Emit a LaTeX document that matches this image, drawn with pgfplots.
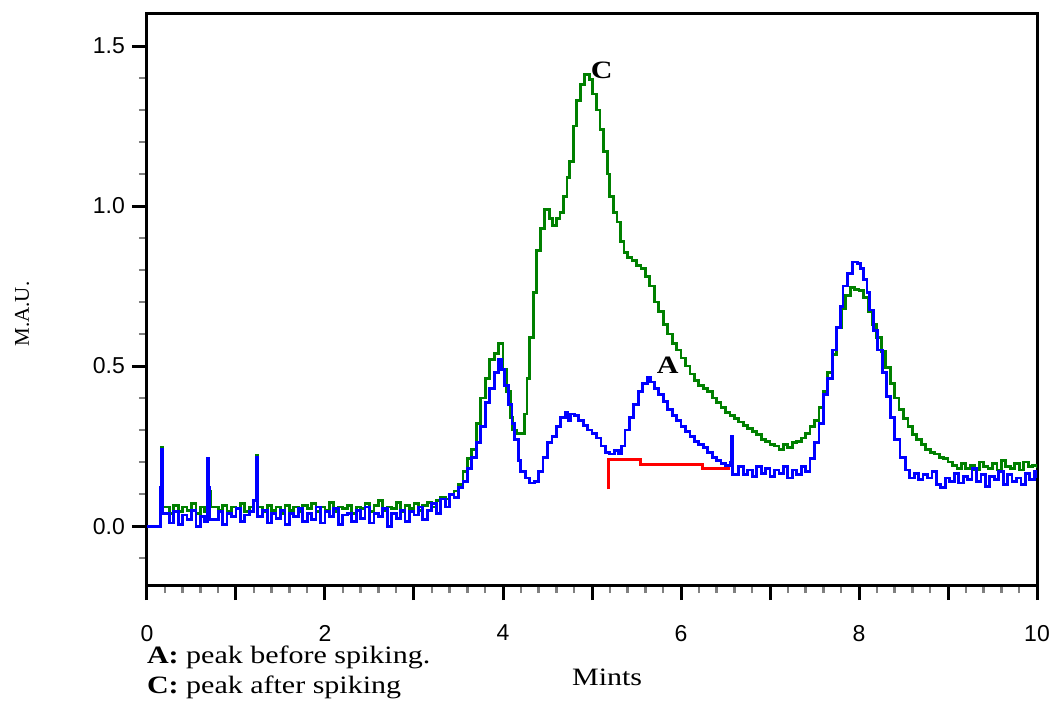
\documentclass[border=0pt]{standalone}
\usepackage{fontspec}
\setmainfont[FakeStretch=1.2]{Liberation Serif}
\newfontfamily\plainserif{Liberation Serif}
\newfontfamily\tickfont{Liberation Sans}
\usepackage{pgfplots}
\pgfplotsset{compat=1.18}
\definecolor{cgreen}{RGB}{0,128,0}
\definecolor{cblue}{RGB}{0,0,255}
\definecolor{cred}{RGB}{255,0,0}
\begin{document}
\begin{tikzpicture}
\path[use as bounding box] (-73.5pt,-61pt) rectangle (451.5pt,292.5pt);
\begin{axis}[
  at={(0,0)}, anchor=south west,
  scale only axis, width=445pt, height=285.5pt,
  xmin=0, xmax=10, ymin=-0.184, ymax=1.6,
  axis line style={line width=1.5pt},
  xtick={0,2,4,6,8,10}, xticklabels={0,2,4,6,8,10},
  ytick={0,0.5,1,1.5}, yticklabels={0.0,0.5,1.0,1.5},
  minor xtick={0.2,0.4,0.6,0.8,1.2,1.4,1.6,1.8,2.2,2.4,2.6,2.8,3.2,3.4,3.6,3.8,4.2,4.4,4.6,4.8,5.2,5.4,5.6,5.8,6.2,6.4,6.6,6.8,7.2,7.4,7.6,7.8,8.2,8.4,8.6,8.8,9.2,9.4,9.6,9.8},
  minor ytick={-0.1,0.1,0.2,0.3,0.4,0.6,0.7,0.8,0.9,1.1,1.2,1.3,1.4},
  extra x ticks={1,3,5,7,9}, extra x tick labels={},
  extra x tick style={tick style={gray,line width=1pt}},
  tick align=outside, xtick pos=bottom, ytick pos=left,
  major tick length=7.5pt, minor tick length=4pt,
  major tick style={black,line width=1.5pt},
  minor tick style={gray,line width=1.2pt},
  ticklabel style={font=\tickfont\fontsize{11.5}{13}\selectfont},
  xticklabel style={yshift=-9pt},
  clip mode=individual,
]
\addplot[cgreen, line width=1.4pt, const plot] coordinates {
(0.00,0.000) (0.14,0.000) (0.15,0.120) (0.165,0.245) (0.175,0.060) (0.25,0.040) (0.30,0.065) (0.35,0.045) (0.40,0.060) (0.45,0.050)
(0.50,0.070) (0.55,0.040) (0.60,0.060) (0.65,0.045) (0.68,0.165) (0.695,0.110) (0.71,0.060) (0.80,0.050) (0.85,0.065) (0.90,0.045)
(0.95,0.060) (1.00,0.055) (1.05,0.070) (1.10,0.045) (1.15,0.060) (1.20,0.080) (1.23,0.220) (1.24,0.060) (1.30,0.045) (1.35,0.065)
(1.40,0.050) (1.45,0.060) (1.50,0.040) (1.55,0.065) (1.60,0.050) (1.65,0.060) (1.70,0.045) (1.75,0.065) (1.80,0.055) (1.85,0.070)
(1.90,0.045) (1.95,0.060) (2.00,0.050) (2.05,0.075) (2.10,0.045) (2.15,0.060) (2.20,0.055) (2.25,0.065) (2.30,0.040) (2.35,0.060)
(2.40,0.055) (2.45,0.070) (2.50,0.045) (2.55,0.065) (2.60,0.080) (2.65,0.050) (2.70,0.060) (2.75,0.055) (2.80,0.075) (2.85,0.045)
(2.90,0.065) (2.95,0.055) (3.00,0.070) (3.05,0.050) (3.10,0.065) (3.15,0.075) (3.20,0.060) (3.25,0.080) (3.30,0.090) (3.35,0.085)
(3.40,0.100) (3.45,0.110) (3.50,0.130) (3.55,0.170) (3.60,0.210) (3.65,0.240) (3.70,0.320) (3.75,0.400) (3.80,0.460) (3.85,0.520)
(3.90,0.540) (3.95,0.570) (4.00,0.490) (4.04,0.420) (4.08,0.340) (4.11,0.300) (4.15,0.290) (4.20,0.290) (4.24,0.350) (4.27,0.460)
(4.30,0.590) (4.34,0.730) (4.38,0.860) (4.42,0.930) (4.47,0.990) (4.52,0.960) (4.56,0.940) (4.60,0.960) (4.64,0.980) (4.68,1.030)
(4.72,1.090) (4.75,1.140) (4.79,1.250) (4.83,1.330) (4.87,1.380) (4.92,1.410) (4.97,1.395) (5.01,1.350) (5.05,1.300) (5.09,1.240)
(5.13,1.170) (5.17,1.100) (5.20,1.030) (5.24,0.980) (5.28,0.950) (5.32,0.890) (5.36,0.855) (5.40,0.840) (5.45,0.830) (5.50,0.815)
(5.55,0.805) (5.60,0.780) (5.65,0.750) (5.70,0.700) (5.75,0.670) (5.80,0.630) (5.85,0.600) (5.90,0.570) (5.95,0.550) (6.00,0.525)
(6.05,0.500) (6.10,0.475) (6.15,0.455) (6.20,0.440) (6.25,0.430) (6.30,0.420) (6.35,0.400) (6.40,0.385) (6.45,0.370) (6.50,0.355)
(6.55,0.345) (6.60,0.335) (6.65,0.325) (6.70,0.315) (6.75,0.305) (6.80,0.295) (6.85,0.285) (6.90,0.270) (6.95,0.265) (7.00,0.255)
(7.05,0.250) (7.10,0.240) (7.15,0.255) (7.20,0.245) (7.25,0.260) (7.30,0.265) (7.35,0.275) (7.40,0.290) (7.45,0.310) (7.50,0.330)
(7.55,0.370) (7.60,0.420) (7.65,0.480) (7.70,0.535) (7.75,0.620) (7.80,0.680) (7.85,0.720) (7.90,0.745) (7.95,0.740) (8.00,0.735)
(8.05,0.715) (8.10,0.670) (8.15,0.630) (8.20,0.590) (8.25,0.545) (8.30,0.495) (8.35,0.445) (8.40,0.400) (8.45,0.365) (8.50,0.335)
(8.55,0.310) (8.60,0.285) (8.65,0.270) (8.70,0.255) (8.75,0.240) (8.80,0.230) (8.85,0.225) (8.90,0.215) (8.95,0.210) (9.00,0.200)
(9.05,0.190) (9.10,0.180) (9.15,0.195) (9.20,0.180) (9.25,0.190) (9.30,0.175) (9.35,0.200) (9.40,0.185) (9.45,0.180) (9.50,0.195)
(9.55,0.175) (9.60,0.205) (9.65,0.185) (9.70,0.180) (9.75,0.195) (9.80,0.175) (9.85,0.200) (9.90,0.185) (9.95,0.190) (10.00,0.180)
};
\addplot[cblue, line width=1.4pt, const plot] coordinates {
(0.00,0.000) (0.14,0.000) (0.15,0.120) (0.165,0.240) (0.175,0.040) (0.25,0.010) (0.30,0.045) (0.35,0.005) (0.40,0.035) (0.45,0.020)
(0.50,0.050) (0.55,0.000) (0.60,0.030) (0.65,0.015) (0.68,0.210) (0.69,0.120) (0.70,0.020) (0.80,0.045) (0.85,0.005) (0.90,0.040)
(0.95,0.030) (1.00,0.055) (1.05,0.015) (1.10,0.035) (1.15,0.045) (1.20,0.080) (1.23,0.215) (1.24,0.030) (1.30,0.050) (1.35,0.010)
(1.40,0.040) (1.45,0.025) (1.50,0.050) (1.55,0.005) (1.60,0.040) (1.65,0.030) (1.70,0.055) (1.75,0.015) (1.80,0.040) (1.85,0.020)
(1.90,0.060) (1.95,0.010) (2.00,0.045) (2.05,0.030) (2.10,0.055) (2.15,0.005) (2.20,0.035) (2.25,0.040) (2.30,0.015) (2.35,0.050)
(2.40,0.025) (2.45,0.060) (2.50,0.010) (2.55,0.040) (2.60,0.030) (2.65,0.055) (2.70,0.000) (2.75,0.040) (2.80,0.025) (2.85,0.050)
(2.90,0.015) (2.95,0.045) (3.00,0.035) (3.05,0.060) (3.10,0.020) (3.15,0.050) (3.20,0.070) (3.25,0.040) (3.30,0.085) (3.35,0.060)
(3.40,0.100) (3.45,0.090) (3.50,0.120) (3.55,0.140) (3.60,0.180) (3.65,0.215) (3.70,0.260) (3.75,0.310) (3.80,0.385) (3.85,0.430)
(3.90,0.480) (3.95,0.520) (3.98,0.490) (4.02,0.440) (4.06,0.380) (4.10,0.320) (4.13,0.270) (4.17,0.205) (4.20,0.170) (4.25,0.150)
(4.30,0.135) (4.35,0.140) (4.40,0.170) (4.45,0.215) (4.50,0.260) (4.55,0.280) (4.60,0.310) (4.65,0.340) (4.70,0.355) (4.73,0.330)
(4.76,0.350) (4.80,0.345) (4.85,0.330) (4.90,0.315) (4.95,0.300) (5.00,0.290) (5.05,0.275) (5.10,0.250) (5.15,0.230) (5.20,0.225)
(5.25,0.235) (5.30,0.225) (5.33,0.250) (5.37,0.300) (5.42,0.340) (5.47,0.380) (5.52,0.420) (5.57,0.445) (5.62,0.465) (5.66,0.450)
(5.70,0.430) (5.75,0.410) (5.80,0.390) (5.85,0.365) (5.90,0.345) (5.95,0.330) (6.00,0.310) (6.05,0.295) (6.10,0.280) (6.15,0.265)
(6.20,0.255) (6.25,0.245) (6.30,0.230) (6.35,0.215) (6.40,0.205) (6.45,0.195) (6.50,0.190) (6.56,0.200) (6.57,0.280) (6.58,0.160)
(6.65,0.185) (6.70,0.160) (6.75,0.175) (6.80,0.155) (6.85,0.185) (6.90,0.165) (6.95,0.180) (7.00,0.155) (7.05,0.175) (7.10,0.165)
(7.15,0.185) (7.20,0.150) (7.25,0.175) (7.30,0.160) (7.35,0.185) (7.40,0.170) (7.45,0.210) (7.50,0.260) (7.55,0.320) (7.60,0.410)
(7.65,0.460) (7.70,0.550) (7.75,0.620) (7.79,0.685) (7.82,0.750) (7.87,0.790) (7.93,0.825) (7.98,0.820) (8.02,0.805) (8.05,0.770)
(8.09,0.730) (8.12,0.675) (8.16,0.610) (8.21,0.550) (8.26,0.480) (8.31,0.405) (8.35,0.340) (8.40,0.270) (8.46,0.215) (8.52,0.175)
(8.57,0.150) (8.62,0.165) (8.67,0.145) (8.72,0.160) (8.77,0.150) (8.82,0.170) (8.87,0.130) (8.92,0.120) (8.97,0.150) (9.02,0.140)
(9.07,0.165) (9.12,0.135) (9.17,0.155) (9.22,0.145) (9.27,0.180) (9.32,0.140) (9.37,0.160) (9.42,0.125) (9.47,0.155) (9.52,0.145)
(9.57,0.170) (9.62,0.130) (9.67,0.160) (9.72,0.140) (9.77,0.150) (9.82,0.130) (9.87,0.165) (9.92,0.145) (9.97,0.170) (10.00,0.150)
};
\addplot[cred, line width=1.5pt] coordinates {
(5.19,0.115) (5.19,0.209) (5.54,0.209) (5.54,0.194) (6.24,0.194) (6.24,0.181) (6.55,0.181)
};
\node[font=\bfseries\fontsize{12.5}{14}\selectfont] at (axis cs:5.11,1.425) {C};
\node[font=\bfseries\fontsize{12.5}{14}\selectfont] at (axis cs:5.85,0.503) {A};
\node[anchor=base west, font=\fontsize{12.5}{14}\selectfont] at (axis cs:-0.079,-0.428) {\textbf{A:} peak before spiking.};
\node[anchor=base west, font=\fontsize{12.5}{14}\selectfont] at (axis cs:-0.079,-0.522) {\textbf{C:} peak after spiking};
\node[anchor=base, font=\fontsize{12.5}{14}\selectfont] at (axis cs:5.17,-0.497) {Mints};
\node[rotate=90, font=\plainserif\fontsize{10.5}{12}\selectfont] at (axis cs:-1.404,0.6625) {M.A.U.};
\end{axis}
\end{tikzpicture}
\end{document}
